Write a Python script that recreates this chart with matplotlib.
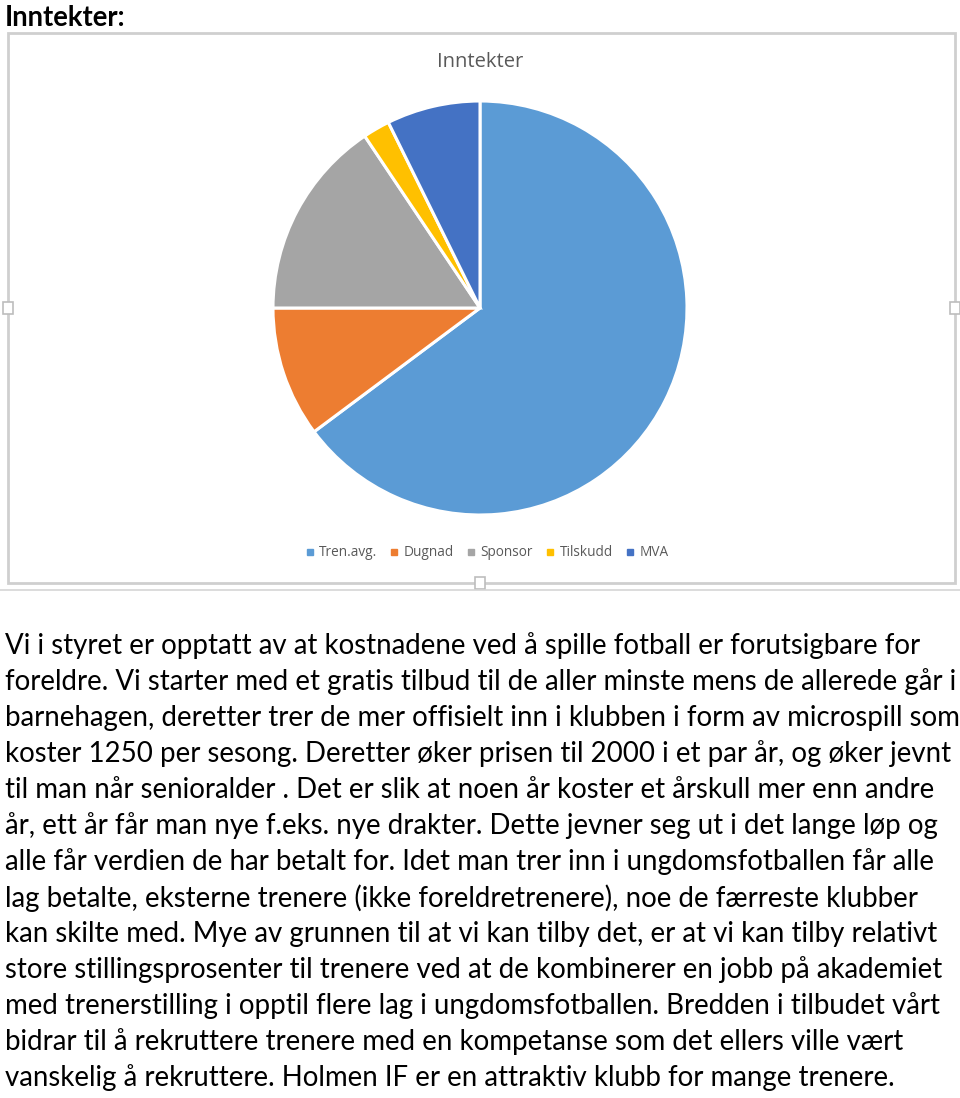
import matplotlib
matplotlib.use("Agg")
import matplotlib.pyplot as plt
from matplotlib.patches import Rectangle
from matplotlib.lines import Line2D

# ---- data ----
categories = ["Tren.avg.", "Dugnad", "Sponsor", "Tilskudd", "MVA"]
values = [64.8, 10.2, 15.6, 2.1, 7.3]
colors = ["#5B9BD5", "#ED7D31", "#A5A5A5", "#FFC000", "#4472C4"]
heading = "Inntekter:"
chart_title = "Inntekter"
paragraph = [
    "Vi i styret er opptatt av at kostnadene ved å spille fotball er forutsigbare for",
    "foreldre. Vi starter med et gratis tilbud til de aller minste mens de allerede går i",
    "barnehagen, deretter trer de mer offisielt inn i klubben i form av microspill som",
    "koster 1250 per sesong. Deretter øker prisen til 2000 i et par år, og øker jevnt",
    "til man når senioralder . Det er slik at noen år koster et årskull mer enn andre",
    "år, ett år får man nye f.eks. nye drakter. Dette jevner seg ut i det lange løp og",
    "alle får verdien de har betalt for. Idet man trer inn i ungdomsfotballen får alle",
    "lag betalte, eksterne trenere (ikke foreldretrenere), noe de færreste klubber",
    "kan skilte med. Mye av grunnen til at vi kan tilby det, er at vi kan tilby relativt",
    "store stillingsprosenter til trenere ved at de kombinerer en jobb på akademiet",
    "med trenerstilling i opptil flere lag i ungdomsfotballen. Bredden i tilbudet vårt",
    "bidrar til å rekruttere trenere med en kompetanse som det ellers ville vært",
    "vanskelig å rekruttere. Holmen IF er en attraktiv klubb for mange trenere.",
]

W, H = 960, 1098
fig = plt.figure(figsize=(W / 100, H / 100), dpi=100)
FONT = "Lato"

def fx(x):
    return x / W

def fy(y):
    return 1 - y / H

# heading
fig.text(fx(5), fy(18), heading, fontsize=19.8, fontweight="bold", family=FONT,
         ha="left", va="center", color="black")

# chart frame
frame = Rectangle((fx(8), fy(583)), fx(955) - fx(8), fy(33) - fy(583),
                  transform=fig.transFigure, fill=False, edgecolor="#cfcfcf", lw=2)
fig.add_artist(frame)
for (hx, hy) in [(8, 308), (955, 308), (480, 583)]:
    fig.add_artist(Rectangle((fx(hx - 5), fy(hy + 6)), fx(10), 12 / H,
                             transform=fig.transFigure, facecolor="white",
                             edgecolor="#bdbdbd", lw=1.2))
# lower partially visible line (next chart)
fig.add_artist(Line2D([fx(0), fx(960)], [fy(590), fy(590)], transform=fig.transFigure,
                      color="#d5d5d5", lw=1.2))

# chart title
fig.text(fx(480), fy(62), chart_title, fontsize=14.5, family="Open Sans",
         ha="center", va="center", color="#595959")

# pie
cx, cy, r = 480, 308, 207
ax = fig.add_axes([fx(cx - r), fy(cy + r), 2 * r / W, 2 * r / H])
ax.pie(values, colors=colors, startangle=90, counterclock=False,
       wedgeprops=dict(edgecolor="white", linewidth=2.2))
ax.set_xlim(-1, 1)
ax.set_ylim(-1, 1)
ax.set_aspect("auto")
ax.axis("off")

# legend
handles = [Line2D([], [], marker="s", linestyle="none", markersize=4,
                  markerfacecolor=c, markeredgecolor=c) for c in colors]
fig.legend(handles, categories, loc="center", bbox_to_anchor=(fx(487), fy(553)),
           ncol=5, frameon=False, handlelength=0.6, handletextpad=0.4,
           columnspacing=0.95, prop=dict(family="Open Sans", size=9.8),
           labelcolor="#595959")

# paragraph
fs = 19.9
for i, line in enumerate(paragraph):
    fig.text(fx(5), fy(646 + 36 * i), line, fontsize=fs, family=FONT,
             ha="left", va="center", color="black")

fig.savefig("out.png", dpi=100)
